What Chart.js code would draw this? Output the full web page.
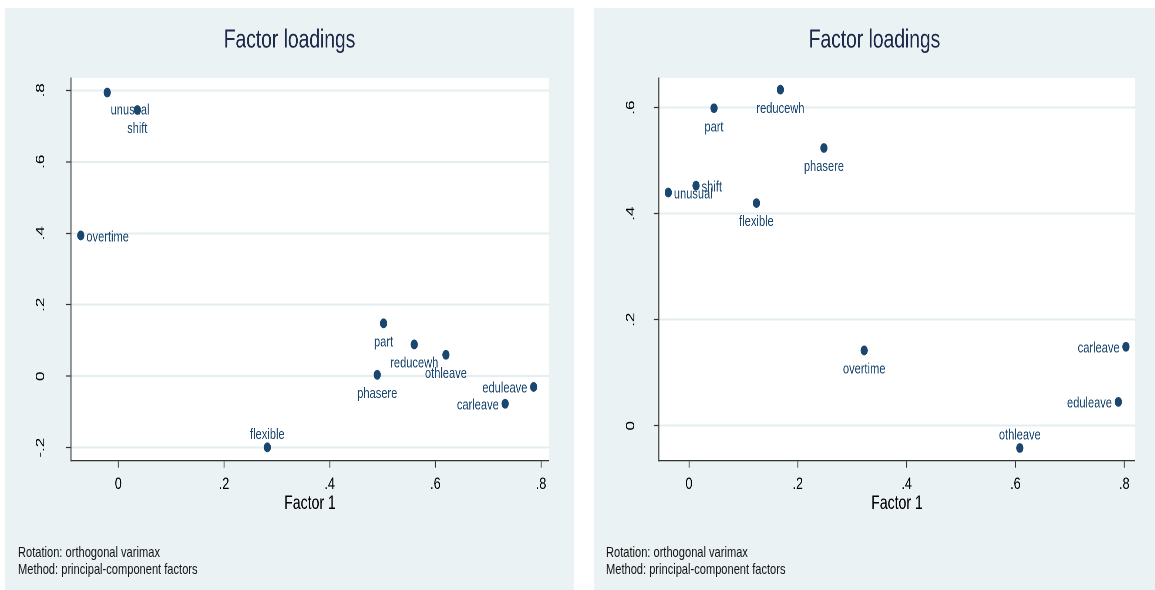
<!DOCTYPE html>
<html>
<head>
<meta charset="utf-8">
<script src="https://cdn.jsdelivr.net/npm/chart.js@4.4.1/dist/chart.umd.min.js"></script>
<style>
html,body{margin:0;padding:0;background:#fff;width:1155px;height:590px;overflow:hidden;}
.panel{position:absolute;top:8px;height:582px;background:#EAF2F3;transform:scaleX(0.74);transform-origin:0 0;}
.panel canvas{position:absolute;left:0;top:0;}
.note{position:absolute;font-family:'Liberation Sans',Arial,sans-serif;font-size:15px;line-height:17px;color:#111;white-space:nowrap;}
</style>
</head>
<body>
<div class="panel" id="p1" style="left:5px;width:769px;">
  <canvas id="c1"></canvas>
  <div class="note" id="n1" style="left:17.6px;top:534.5px;"></div>
</div>
<div class="panel" id="p2" style="left:594px;width:758px;">
  <canvas id="c2"></canvas>
  <div class="note" id="n2" style="left:16.2px;top:534.5px;"></div>
</div>
<script>
// ---- data ----
const variables = ['unusual','shift','overtime','part','reducewh','othleave','phasere','eduleave','carleave','flexible'];
const leftFactor1  = [-0.021, 0.036, -0.071, 0.502, 0.560, 0.620, 0.490, 0.786, 0.732, 0.282];
const leftFactor2  = [ 0.794, 0.745,  0.394, 0.148, 0.089, 0.060, 0.004, -0.030, -0.077, -0.199];
const rightFactor1 = [-0.038, 0.013, 0.322, 0.046, 0.168, 0.608, 0.248, 0.789, 0.803, 0.124];
const rightFactor2 = [ 0.440, 0.453, 0.142, 0.599, 0.634, -0.042, 0.524, 0.045, 0.149, 0.420];
const xTickValues = [0, 0.2, 0.4, 0.6, 0.8];
const xTickLabels = ['0', '.2', '.4', '.6', '.8'];
const leftYTickValues = [-0.2, 0, 0.2, 0.4, 0.6, 0.8];
const leftYTickLabels = ['-.2', '0', '.2', '.4', '.6', '.8'];
const rightYTickValues = [0, 0.2, 0.4, 0.6];
const rightYTickLabels = ['0', '.2', '.4', '.6'];
const leftLabelPos  = [5, 6, 3, 6, 6, 6, 6, 9, 9, 12];
const rightLabelPos = [3, 3, 6, 6, 6, 12, 6, 9, 9, 6];
const titleText = 'Factor loadings';
const xTitleText = 'Factor 1';
const noteLines = ['Rotation: orthogonal varimax', 'Method: principal-component factors'];

// ---- styling ----
const FONT = "'Liberation Sans', Arial, sans-serif";
const NAVY = '#1a476f';
const OFF = {
  3:  {a: 'left',   dx: 7.5,  dy: 2},
  9:  {a: 'right',  dx: -8.5, dy: 1.5},
  6:  {a: 'center', dx: 0,    dy: 19},
  12: {a: 'center', dx: 0,    dy: -12.5},
  5:  {a: 'left',   dx: 4.6,  dy: 18}
};

const plotBg = {
  id: 'plotBg',
  beforeDraw(chart) {
    const {ctx, chartArea: a} = chart;
    ctx.save();
    ctx.fillStyle = '#ffffff';
    ctx.fillRect(a.left, a.top, a.right - a.left, a.bottom - a.top);
    ctx.restore();
  }
};

const markerLabels = {
  id: 'markerLabels',
  beforeDatasetsDraw(chart, args, opts) {
    const ctx = chart.ctx;
    const meta = chart.getDatasetMeta(0);
    ctx.save();
    ctx.font = '15px ' + FONT;
    ctx.fillStyle = NAVY;
    ctx.textBaseline = 'middle';
    meta.data.forEach((pt, i) => {
      const o = OFF[opts.pos[i]];
      ctx.textAlign = o.a;
      ctx.fillText(opts.labels[i], pt.x + o.dx, pt.y + o.dy);
    });
    ctx.restore();
  }
};

function makeChart(id, fx, fy, pos, xRange, yRange, yVals, yLabs, yWidth, rightPad, w) {
  const canvas = document.getElementById(id);
  canvas.style.width = w + 'px';
  canvas.style.height = '582px';
  canvas.width = w; canvas.height = 582;
  const pts = fx.map((v, i) => ({x: v, y: fy[i]}));
  return new Chart(canvas, {
    type: 'scatter',
    data: {datasets: [{data: pts, backgroundColor: NAVY, borderWidth: 0, pointRadius: 4.9, pointHoverRadius: 4.9}]},
    plugins: [plotBg, markerLabels],
    options: {
      responsive: false, animation: false, devicePixelRatio: 2,
      layout: {padding: {left: 0, right: 0, top: 0, bottom: 70.6}},
      plugins: {
        legend: {display: false},
        tooltip: {enabled: false},
        title: {display: true, text: titleText, color: '#1e2a4a',
                font: {family: FONT, size: 26, weight: 'normal', lineHeight: 1.2},
                padding: {top: 16.8, bottom: 22.0}},
        markerLabels: {labels: variables, pos: pos}
      },
      scales: {
        x: {
          type: 'linear', position: 'bottom', min: xRange[0], max: xRange[1],
          afterBuildTicks: s => { s.ticks = xTickValues.map(v => ({value: v})); },
          afterFit: s => { s.height = 58.7; },
          ticks: {callback: (v, i) => xTickLabels[i], font: {family: FONT, size: 17}, color: '#000',
                  padding: 6.6, minRotation: 0, maxRotation: 0, autoSkip: false},
          grid: {drawOnChartArea: false, drawTicks: true, tickLength: 7, tickColor: '#333', tickWidth: 1.2},
          border: {display: true, color: '#333', width: 1.3},
          title: {display: true, text: xTitleText, color: '#000', font: {family: FONT, size: 19},
                  padding: {top: 0, bottom: 4}}
        },
        y: {
          type: 'linear', position: 'left', min: yRange[0], max: yRange[1],
          afterBuildTicks: s => { s.ticks = yVals.map(v => ({value: v})); },
          afterFit: s => { s.width = yWidth; },
          ticks: {callback: (v, i) => yLabs[i], font: {family: FONT, size: 17}, color: '#000',
                  padding: 24, minRotation: 90, maxRotation: 90, crossAlign: 'center', autoSkip: false},
          grid: {color: '#E4EDF0', lineWidth: 2, drawTicks: true, tickLength: 7, tickColor: '#333', tickWidth: 1.2},
          border: {display: true, color: '#333', width: 1.3}
        },
        yR: {
          type: 'linear', position: 'right', display: true,
          afterFit: s => { s.width = rightPad; },
          ticks: {display: false}, grid: {display: false}, border: {display: false}
        }
      }
    }
  });
}

makeChart('c1', leftFactor1, leftFactor2, leftLabelPos, [-0.0895, 0.815], [-0.2364, 0.8345],
          leftYTickValues, leftYTickLabels, 89.2, 33.9, 769);
makeChart('c2', rightFactor1, rightFactor2, rightLabelPos, [-0.0551, 0.8197], [-0.066, 0.656],
          rightYTickValues, rightYTickLabels, 87.8, 26.9, 758);

document.getElementById('n1').innerHTML = noteLines.join('<br>');
document.getElementById('n2').innerHTML = noteLines.join('<br>');
</script>
</body>
</html>
